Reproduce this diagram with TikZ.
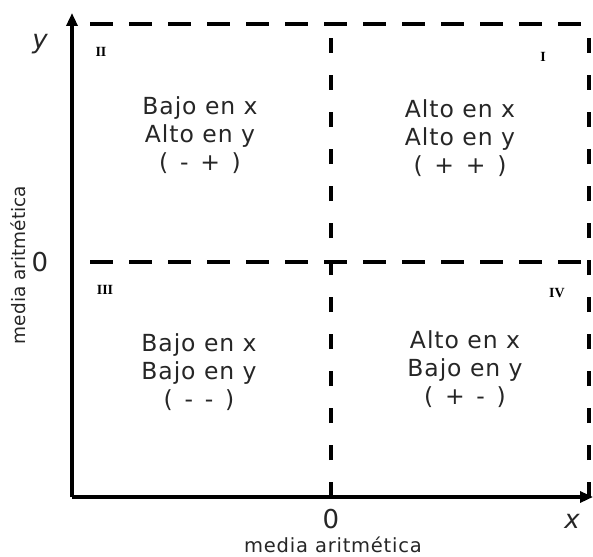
\documentclass[tikz,border=0pt]{standalone}
\usepackage{fontspec}
\setmainfont{DejaVu Sans}
\newfontfamily\spaced[LetterSpace=4]{DejaVu Sans}
\newfontfamily\romanfont{Liberation Serif}
\usetikzlibrary{arrows.meta}
\begin{document}
\begin{tikzpicture}[x=1pt,y=-1pt,
  axis/.style={line width=3.2pt,-{Triangle[length=13pt,width=11pt]}},
  dashh/.style={line width=3.4pt,dash pattern=on 23pt off 16pt},
  dashv/.style={line width=3.4pt,dash pattern=on 15pt off 22pt},
  quad/.style={align=center,inner sep=0pt,font=\spaced\fontsize{23.5}{28}\selectfont,text=black!85},
  rom/.style={inner sep=0pt,font=\romanfont\bfseries\fontsize{14}{14}\selectfont},
  lab/.style={inner sep=0pt,font=\fontsize{26}{26}\selectfont,text=black!85},
  small/.style={inner sep=0pt,font=\spaced\fontsize{19.5}{19.5}\selectfont,text=black!85}]
\useasboundingbox (0,0) rectangle (593,556);
\coordinate (O) at (72,497);
\coordinate (ytip) at (72,13);
\coordinate (xtip) at (593,497);
\draw[axis] (O) -- (ytip);
\draw[axis] (O) -- (xtip);
\coordinate (tl) at (90,24);
\coordinate (tr) at (586,24);
\coordinate (ml) at (90,262);
\coordinate (mr) at (586,262);
\coordinate (tm) at (331,24);
\coordinate (bm) at (331,497);
\coordinate (rt) at (589,30);
\coordinate (rb) at (589,497);
\draw[dashh] (tl) -- (tr);
\draw[dashh] (ml) -- (mr);
\draw[dashv] (bm) -- (tm);
\draw[dashv] (rb) -- (rt);
\node[quad] (q2) at (200,135) {Bajo en x\\Alto en y\\(\enspace-\enspace+\enspace)};
\node[quad] (q1) at (460,138) {Alto en x\\Alto en y\\(\enspace+\enspace+\enspace)};
\node[quad] (q3) at (199,372) {Bajo en x\\Bajo en y\\(\enspace-\enspace-\enspace)};
\node[quad] (q4) at (465,369) {Alto en x\\Bajo en y\\(\enspace+\enspace-\enspace)};
\node[rom] (r2) at (101,52) {II};
\node[rom] (r1) at (543,57) {I};
\node[rom] (r3) at (105,290) {III};
\node[rom] (r4) at (557,293) {IV};
\node[lab,font=\itshape\fontsize{26}{26}\selectfont] (ylab) at (40,44) {y};
\node[lab,font=\itshape\fontsize{26}{26}\selectfont] (xlab) at (572,521) {x};
\node[lab] (y0) at (40,262) {0};
\node[lab] (x0) at (331,519) {0};
\node[small] (xm) at (333,545) {media aritmética};
\node[small,rotate=90,font=\fontsize{18.5}{18.5}\selectfont] (ym) at (18,265) {media aritmética};
\end{tikzpicture}
\end{document}
